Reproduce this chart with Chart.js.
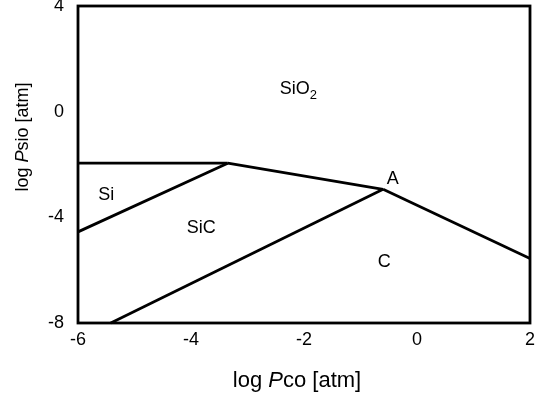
<!DOCTYPE html>
<html>
<head>
<meta charset="utf-8">
<script src="https://cdn.jsdelivr.net/npm/chart.js@4"></script>
<style>
html, body { margin: 0; padding: 0; background: #fff; }
#wrap { width: 547px; height: 397px; }
</style>
</head>
<body>
<div id="wrap"><canvas id="phaseChart"></canvas></div>
<script>
// Si-C-O phase diagram, log Pco vs log Psio
// phase boundaries
const siSio2X = [-6, -3.35]
const siSio2Y = [-1.95, -1.95]
const siSicX = [-6, -3.35]
const siSicY = [-4.55, -1.95]
const sicSio2X = [-3.35, -0.6]
const sicSio2Y = [-1.95, -2.94]
const cSio2X = [-0.6, 2]
const cSio2Y = [-2.94, -5.56]
const sicCX = [-5.42, -0.6]
const sicCY = [-8, -2.94]

// region labels (text, subscript, position in data units)
const regionNames = ['SiO', 'Si', 'SiC', 'C', 'A']
const regionSubs = ['2', '', '', '', '']
const regionX = [-2.1, -5.5, -3.82, -0.58, -0.43]
const regionY = [0.85, -3.16, -4.42, -5.71, -2.56]

// tick values
const xTicks = [-6, -4, -2, 0, 2]
const yTicks = [-8, -4, 0, 4]

// axis titles: [text, italic?]
const xTitle = [['log ', false], ['P', true], ['co [atm]', false]]
const yTitle = [['log ', false], ['P', true], ['sio [atm]', false]]

const FONT = '"Liberation Sans", Arial, sans-serif'

const toPoints = (xs, ys) => xs.map((v, i) => ({x: v, y: ys[i]}))

const lines = [
    toPoints(siSio2X, siSio2Y),
    toPoints(siSicX, siSicY),
    toPoints(sicSio2X, sicSio2Y),
    toPoints(cSio2X, cSio2Y),
    toPoints(sicCX, sicCY)
]

const drawParts = (ctx, parts, size) => {
    let total = 0
    parts.forEach(p => {
        ctx.font = (p[1] ? 'italic ' : '') + size + 'px ' + FONT
        total += ctx.measureText(p[0]).width
    })
    let pos = -total / 2
    parts.forEach(p => {
        ctx.font = (p[1] ? 'italic ' : '') + size + 'px ' + FONT
        ctx.fillText(p[0], pos, 0)
        pos += ctx.measureText(p[0]).width
    })
}

const framePlugin = {
    id: 'frame',
    afterDatasetsDraw(chart) {
        const {ctx, chartArea: a, scales: {x, y}} = chart
        ctx.save()
        ctx.strokeStyle = '#000'
        ctx.lineWidth = 2.8
        ctx.strokeRect(a.left, a.top, a.right - a.left, a.bottom - a.top)

        ctx.fillStyle = '#000'
        ctx.textBaseline = 'middle'
        ctx.textAlign = 'left'
        regionNames.forEach((name, i) => {
            ctx.font = '18px ' + FONT
            const w = ctx.measureText(name).width
            ctx.font = '13px ' + FONT
            const ws = regionSubs[i] ? ctx.measureText(regionSubs[i]).width : 0
            const px = x.getPixelForValue(regionX[i]) - (w + ws) / 2
            const py = y.getPixelForValue(regionY[i])
            ctx.font = '18px ' + FONT
            ctx.fillText(name, px, py)
            if (regionSubs[i]) {
                ctx.font = '13px ' + FONT
                ctx.fillText(regionSubs[i], px + w, py + 6)
            }
        })

        // axis titles
        ctx.save()
        ctx.translate((a.left + a.right) / 2 - 7, 381)
        drawParts(ctx, xTitle, 22)
        ctx.restore()
        ctx.save()
        ctx.translate(23, 137)
        ctx.rotate(-Math.PI / 2)
        drawParts(ctx, yTitle, 18)
        ctx.restore()
        ctx.restore()
    }
}

const ctx = document.getElementById('phaseChart')
const phaseChart = new Chart(ctx, {
    type: 'scatter',
    data: {
        datasets: lines.map(pts => ({
            data: pts,
            showLine: true,
            borderColor: '#000',
            borderWidth: 2.8,
            pointRadius: 0,
            fill: false,
            tension: 0,
            clip: 4
        }))
    },
    options: {
        responsive: true,
        maintainAspectRatio: false,
        animation: false,
        layout: { padding: { top: 6, right: 17, left: 0, bottom: 0 } },
        plugins: {
            legend: { display: false },
            tooltip: { enabled: false }
        },
        scales: {
            x: {
                type: 'linear',
                min: -6,
                max: 2,
                afterBuildTicks: s => { s.ticks = xTicks.map(v => ({value: v})) },
                ticks: { color: '#000', font: { size: 18, family: FONT }, padding: 6, maxRotation: 0 },
                grid: { display: false, drawTicks: false },
                border: { display: false },
                afterFit: s => { s.height = 74; s.paddingLeft = 0; s.paddingRight = 0 }
            },
            y: {
                type: 'linear',
                min: -8,
                max: 4,
                afterBuildTicks: s => { s.ticks = yTicks.map(v => ({value: v})) },
                ticks: { color: '#000', font: { size: 18, family: FONT }, padding: 14 },
                grid: { display: false, drawTicks: false },
                border: { display: false },
                afterFit: s => { s.width = 78; s.paddingTop = 0; s.paddingBottom = 0 }
            }
        }
    },
    plugins: [framePlugin]
})
</script>
</body>
</html>
